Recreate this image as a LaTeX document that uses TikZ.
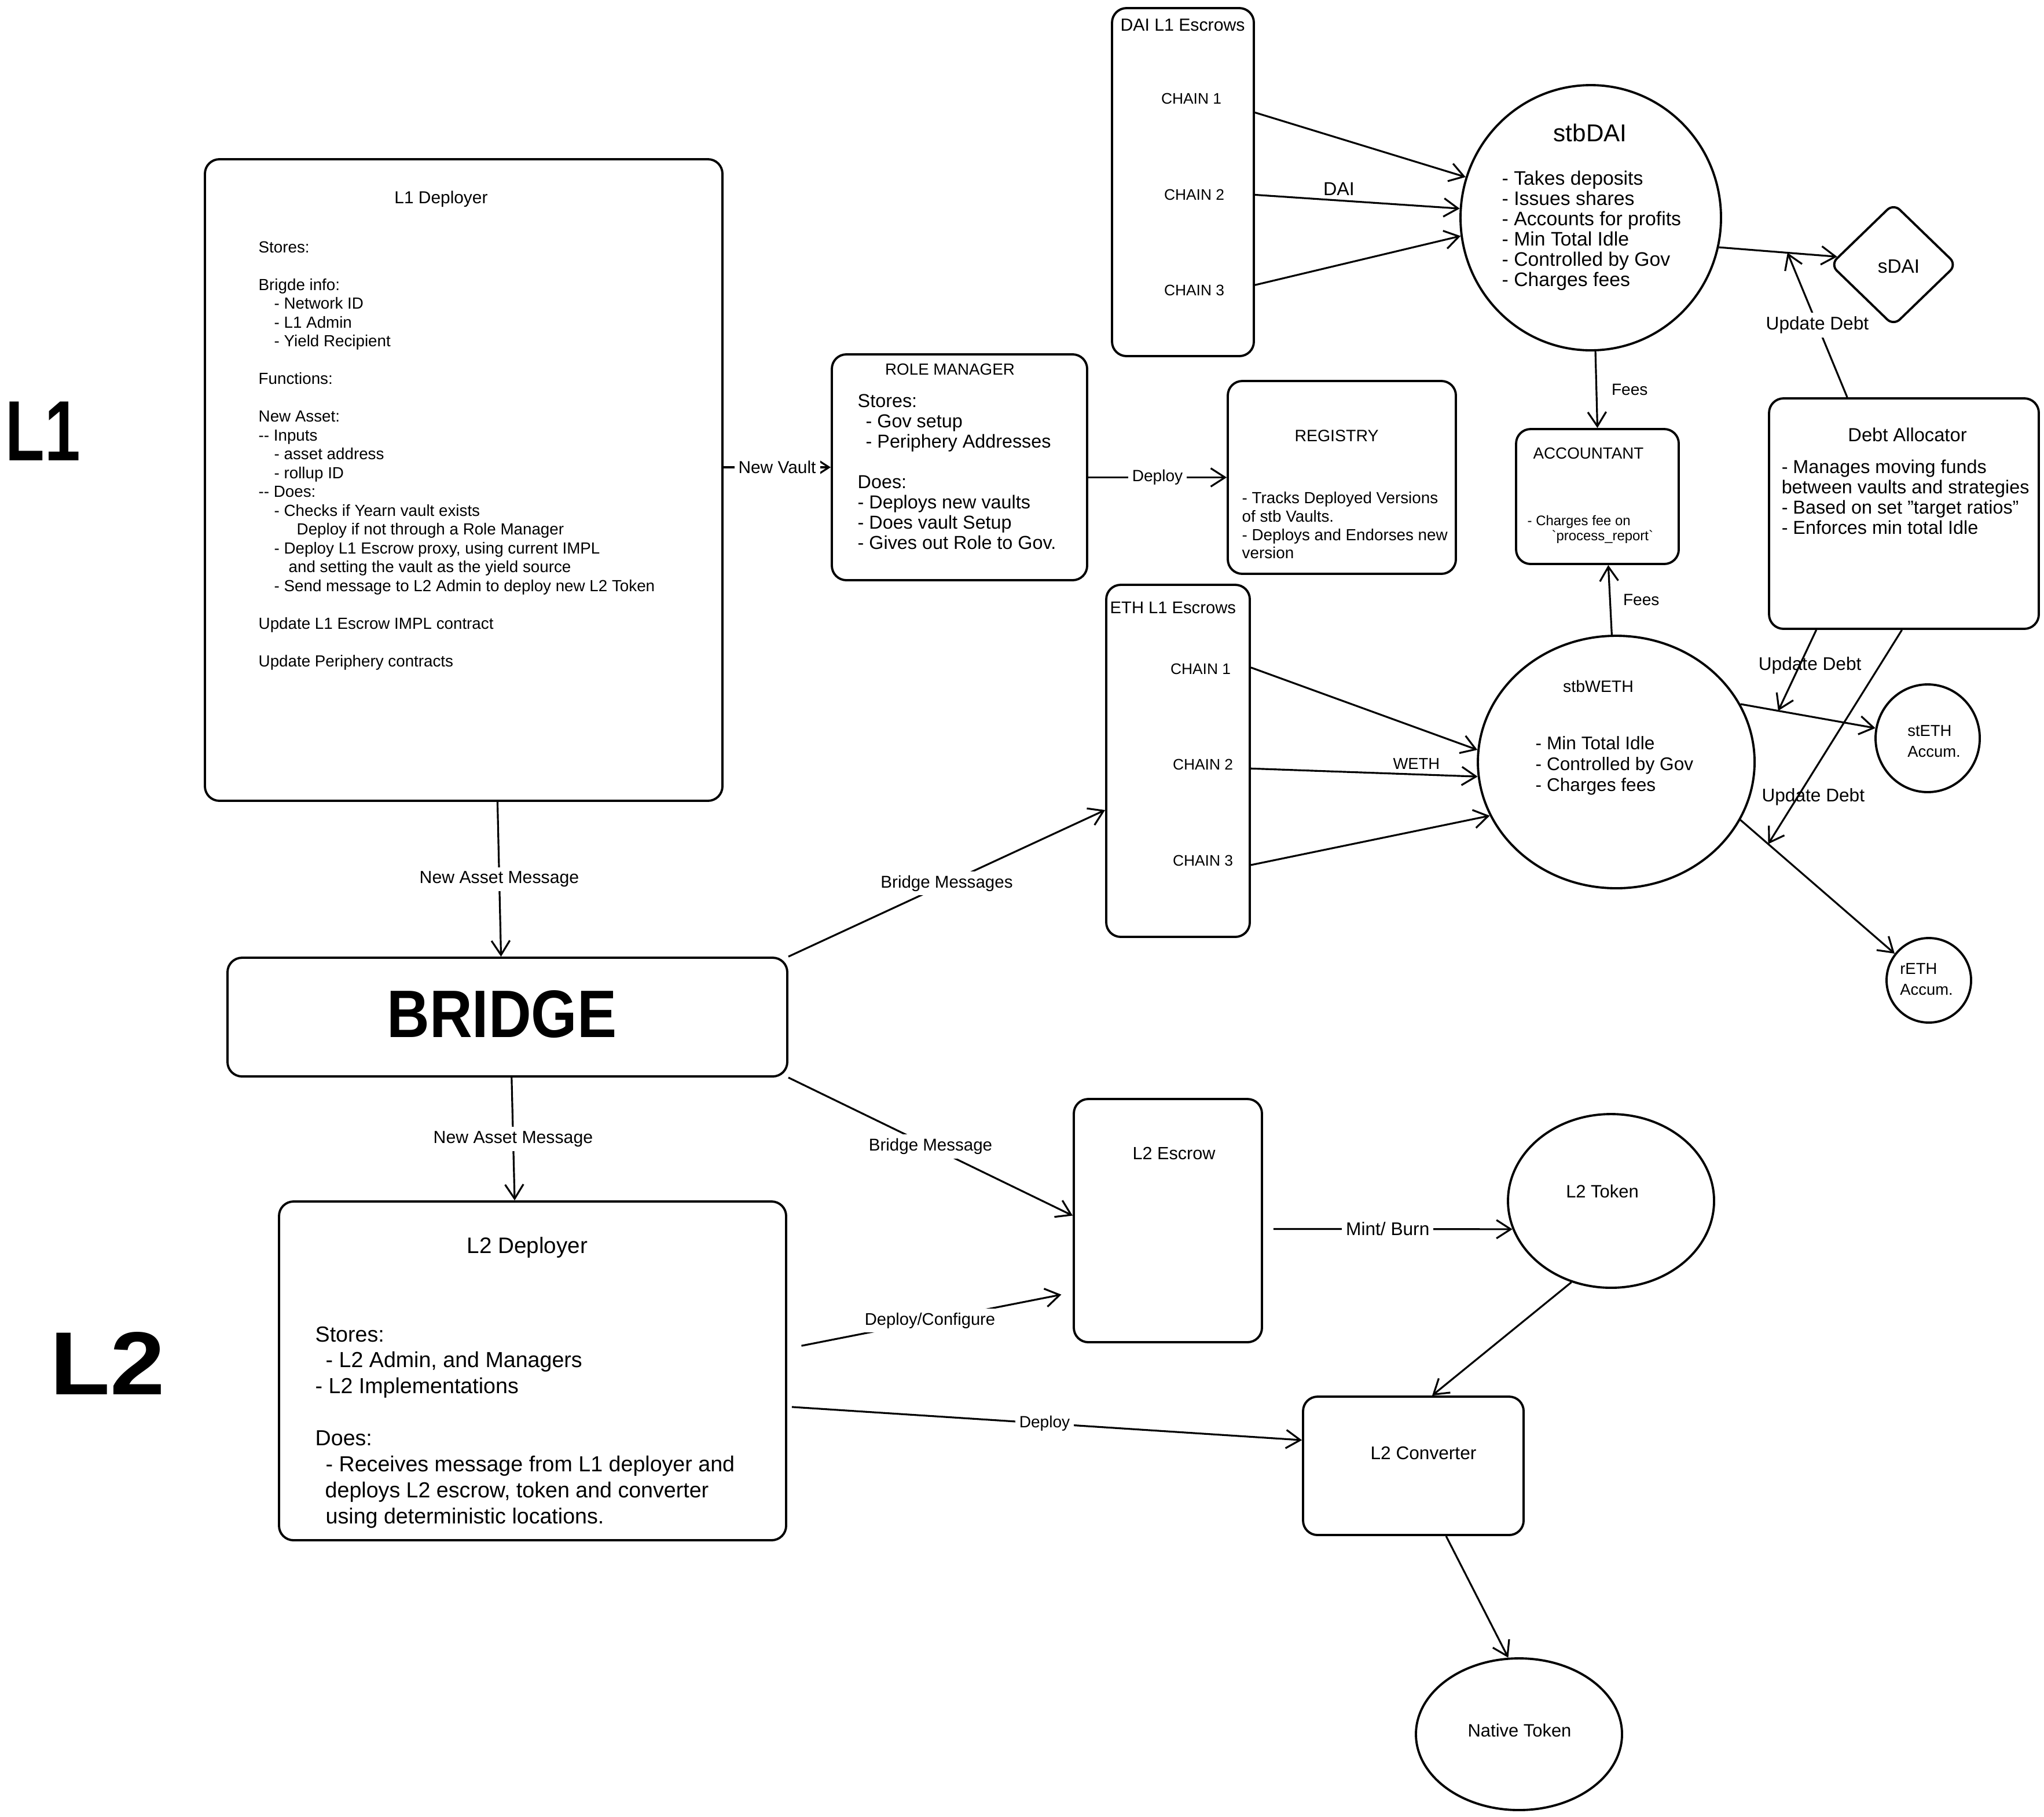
\documentclass[tikz,border=0pt]{standalone}
\usepackage{fontspec}
\setmainfont{Liberation Sans}
\usetikzlibrary{arrows.meta,shapes.geometric}
\newcommand\fsz[2]{\fontsize{#1pt}{#2pt}\selectfont}
\begin{document}
\begin{tikzpicture}[
  box/.style={draw, line width=1.1pt, rounded corners=0.25cm, inner sep=0pt},
  oval/.style={draw, ellipse, line width=1.1pt, inner sep=0pt},
  arr/.style={line width=0.9pt, -{Straight Barb[length=7pt,width=9pt]}},
  lbl/.style={fill=white, inner sep=2pt, font=\fsz{8.5}{10}},
  plainlbl/.style={inner sep=1pt, font=\fsz{8.5}{10}},
  txt/.style={inner sep=0pt, align=left, anchor=north west},
  ttl/.style={inner sep=0pt},
]
\fill[white] (0,0) rectangle (35.31,-31.37);

% big layer labels
\node[ttl, font=\bfseries\fsz{42}{42}, xscale=0.75] (lone) at (0.74,-7.45) {L1};
\node[ttl, font=\bfseries\fsz{44}{44}, xscale=1.1] (ltwo) at (1.86,-23.54) {L2};

% L1 deployer
\node[box, minimum width=8.94cm, minimum height=11.08cm] (l1dep) at (8.01,-8.29) {};
\node[ttl, font=\fsz{8.5}{10}] (l1title) at (7.62,-3.44) {L1 Deployer};
\node[txt, font=\fsz{7.9}{9.25}] (l1body) at (4.46,-4.16) {Stores:\\[9.25pt]
Brigde info:\\
\hspace*{0.27cm}- Network ID\\
\hspace*{0.27cm}- L1 Admin\\
\hspace*{0.27cm}- Yield Recipient\\[9.25pt]
Functions:\\[9.25pt]
New Asset:\\
-{}- Inputs\\
\hspace*{0.27cm}- asset address\\
\hspace*{0.27cm}- rollup ID\\
-{}- Does:\\
\hspace*{0.27cm}- Checks if Yearn vault exists\\
\hspace*{0.66cm}Deploy if not through a Role Manager\\
\hspace*{0.27cm}- Deploy L1 Escrow proxy, using current IMPL\\
\hspace*{0.52cm}and setting the vault as the yield source\\
\hspace*{0.27cm}- Send message to L2 Admin to deploy new L2 Token\\[9.25pt]
Update L1 Escrow IMPL contract\\[9.25pt]
Update Periphery contracts};

% Role manager
\node[box, minimum width=4.41cm, minimum height=3.90cm] (rolemgr) at (16.575,-8.07) {};
\node[ttl, font=\fsz{7.9}{9}] (rmtitle) at (16.41,-6.38) {ROLE MANAGER};
\node[txt, font=\fsz{9.2}{9.96}] (rmbody) at (14.81,-6.80) {Stores:\\
\hspace*{0.14cm}- Gov setup\\
\hspace*{0.14cm}- Periphery Addresses\\[9.96pt]
Does:\\
- Deploys new vaults\\
- Does vault Setup\\
- Gives out Role to Gov.};

% Registry
\node[box, minimum width=3.94cm, minimum height=3.33cm] (registry) at (23.18,-8.245) {};
\node[ttl, font=\fsz{8.1}{9}] (regtitle) at (23.09,-7.53) {REGISTRY};
\node[txt, font=\fsz{7.9}{9}] (regbody) at (21.45,-8.49) {- Tracks Deployed Versions\\
of stb Vaults.\\
- Deploys and Endorses new\\
version};

% DAI escrows
\node[box, minimum width=2.45cm, minimum height=6.01cm] (daiesc) at (20.435,-3.145) {};
\node[ttl, font=\fsz{8.6}{10}] (daititle) at (20.43,-0.43) {DAI L1 Escrows};
\node[ttl, font=\fsz{7.5}{9}] (dc1) at (20.58,-1.70) {CHAIN 1};
\node[ttl, font=\fsz{7.5}{9}] (dc2) at (20.63,-3.36) {CHAIN 2};
\node[ttl, font=\fsz{7.5}{9}] (dc3) at (20.63,-5.01) {CHAIN 3};

% stbDAI
\node[oval, minimum width=4.50cm, minimum height=4.58cm] (stbdai) at (27.48,-3.76) {};
\node[ttl, font=\fsz{12}{14}] (stbdaititle) at (27.47,-2.29) {stbDAI};
\node[txt, font=\fsz{9.6}{9.96}] (stbdaibody) at (25.94,-2.945) {- Takes deposits\\
- Issues shares\\
- Accounts for profits\\
- Min Total Idle\\
- Controlled by Gov\\
- Charges fees};

% sDAI
\node[draw, diamond, aspect=1.03, minimum width=2.19cm, minimum height=2.12cm, inner sep=0pt, line width=1.1pt, rounded corners=0.15cm] (sdai) at (32.71,-4.57) {};
\node[ttl, font=\fsz{9.5}{11}] (sdaitxt) at (32.80,-4.60) {sDAI};

% Accountant
\node[box, minimum width=2.81cm, minimum height=2.33cm] (accountant) at (27.595,-8.575) {};
\node[ttl, font=\fsz{7.9}{9}] (acctitle) at (27.44,-7.83) {ACCOUNTANT};
\node[txt, font=\fsz{6.8}{7.4}] (accbody) at (26.38,-8.894) {- Charges fee on\\
\hspace*{0.42cm}\textasciigrave process\_report\textasciigrave};

% Debt allocator
\node[box, minimum width=4.66cm, minimum height=3.98cm] (debtalloc) at (32.89,-8.87) {};
\node[ttl, font=\fsz{9.3}{11}] (datitle) at (32.95,-7.51) {Debt Allocator};
\node[txt, font=\fsz{9.2}{9.96}] (dabody) at (30.77,-7.93) {- Manages moving funds\\
between vaults and strategies\\
- Based on set "target ratios"\\
- Enforces min total Idle};

% ETH escrows
\node[box, minimum width=2.48cm, minimum height=6.08cm] (ethesc) at (20.35,-13.14) {};
\node[ttl, font=\fsz{8.3}{10}, anchor=west] (ethtitle) at (19.17,-10.50) {ETH L1 Escrows};
\node[ttl, font=\fsz{7.5}{9}] (ec1) at (20.74,-11.55) {CHAIN 1};
\node[ttl, font=\fsz{7.5}{9}] (ec2) at (20.78,-13.20) {CHAIN 2};
\node[ttl, font=\fsz{7.5}{9}] (ec3) at (20.78,-14.86) {CHAIN 3};

% stbWETH
\node[oval, minimum width=4.78cm, minimum height=4.36cm] (stbweth) at (27.92,-13.16) {};
\node[ttl, font=\fsz{8.1}{10}] (stbwethtitle) at (27.61,-11.85) {stbWETH};
\node[txt, font=\fsz{9}{10.2}] (stbwethbody) at (26.52,-12.713) {- Min Total Idle\\
- Controlled by Gov\\
- Charges fees};

% stETH / rETH
\node[oval, minimum width=1.80cm, minimum height=1.86cm] (steth) at (33.30,-12.75) {};
\node[ttl, align=left, font=\fsz{7.8}{10.2}] (stethtxt) at (33.41,-12.80) {stETH\\Accum.};
\node[oval, minimum width=1.46cm, minimum height=1.46cm] (reth) at (33.32,-16.93) {};
\node[ttl, align=left, font=\fsz{7.8}{10.2}] (rethtxt) at (33.28,-16.91) {rETH\\Accum.};

% Bridge
\node[box, minimum width=9.67cm, minimum height=2.05cm] (bridge) at (8.765,-17.565) {};
\node[ttl, font=\bfseries\fsz{33}{36}, xscale=0.88] (bridgetxt) at (8.67,-17.52) {BRIDGE};

% L2 deployer
\node[box, minimum width=8.76cm, minimum height=5.85cm] (l2dep) at (9.20,-23.675) {};
\node[ttl, font=\fsz{11}{13}] (l2title) at (9.11,-21.54) {L2 Deployer};
\node[txt, font=\fsz{10.7}{12.8}] (l2body) at (5.44,-22.90) {Stores:\\
\hspace*{0.18cm}- L2 Admin, and Managers\\
- L2 Implementations\\[12.8pt]
Does:\\
\hspace*{0.18cm}- Receives message from L1 deployer and\\
\hspace*{0.17cm}deploys L2 escrow, token and converter\\
\hspace*{0.18cm}using deterministic locations.};

% L2 side
\node[box, minimum width=3.25cm, minimum height=4.20cm] (l2esc) at (20.175,-21.08) {};
\node[ttl, font=\fsz{8.7}{10}] (l2esctxt) at (20.28,-19.92) {L2 Escrow};
\node[oval, minimum width=3.56cm, minimum height=3.00cm] (l2tok) at (27.83,-20.74) {};
\node[ttl, font=\fsz{8.8}{10}] (l2toktxt) at (27.68,-20.57) {L2 Token};
\node[box, minimum width=3.81cm, minimum height=2.39cm] (l2conv) at (24.415,-25.315) {};
\node[ttl, font=\fsz{9}{10}] (l2convtxt) at (24.59,-25.10) {L2 Converter};
\node[oval, minimum width=3.56cm, minimum height=2.62cm] (native) at (26.24,-29.95) {};
\node[ttl, font=\fsz{8.8}{10}] (nativetxt) at (26.25,-29.88) {Native Token};

% ---------- connectors ----------
\draw[arr] (l1dep.east |- rolemgr.west) -- node[lbl]{New Vault} (rolemgr.west);
\draw[arr] (rolemgr.east |- registry.west) -- node[lbl, font=\fsz{8}{10}]{Deploy} (registry.west);

\draw[arr] (daiesc.44) -- (stbdai.162);
\draw[arr] (daiesc.-10) -- node[pos=0.41, above=1pt, plainlbl, font=\fsz{9.2}{10}]{DAI} (stbdai.176);
\draw[arr] (daiesc.-55) -- (stbdai.188);
\draw[arr] (stbdai.-13) -- coordinate[pos=0.58] (udtip) (sdai.172);
\draw[arr] (debtalloc.116) -- node[lbl, font=\fsz{9}{10}]{Update Debt} (udtip);
\draw[arr] (stbdai.-88) -- node[right=6pt, plainlbl, font=\fsz{8}{10}]{Fees} (accountant.north);
\draw[arr] (stbweth.92) -- node[right=5pt, plainlbl, font=\fsz{8}{10}]{Fees} (accountant.-81);

\draw[arr] (ethesc.52) -- (stbweth.175);
\draw[arr] (ethesc.-6) -- node[pos=0.73, above=1pt, plainlbl, font=\fsz{7.8}{10}]{WETH} (stbweth.186);
\draw[arr] (ethesc.-55) -- (stbweth.203);
\draw[arr] (stbweth.25) -- coordinate[pos=0.28] (uw1) (steth.169);
\draw[arr] (stbweth.-25) -- coordinate[pos=0.18] (uw2) (reth.142);
\draw[arr] (debtalloc.233) -- node[pos=0.44, xshift=0.18cm, plainlbl, font=\fsz{9}{10}]{Update Debt} (uw1);
\draw[arr] (debtalloc.-91) -- node[pos=0.78, xshift=0.27cm, plainlbl, font=\fsz{9}{10}]{Update Debt} (uw2);

\draw[arr] (l1dep.-84) -- node[lbl, font=\fsz{8.6}{10}]{New Asset Message} (bridge.96);
\draw[arr] (bridge.-86) -- node[lbl, font=\fsz{8.6}{10}]{New Asset Message} (l2dep.96);
\draw[arr] (bridge.north east) -- node[lbl, font=\fsz{8.4}{10}]{Bridge Messages} (ethesc.214);
\draw[arr] (bridge.south east) -- node[lbl, font=\fsz{8.4}{10}]{Bridge Message} (l2esc.177);
\draw[arr, shorten <=0.25cm, shorten >=0.2cm] (l2dep.5) -- node[lbl, font=\fsz{8.3}{10}]{Deploy/Configure} (l2esc.217);
\draw[arr, shorten <=0.18cm] (l2esc.-5) -- node[lbl, font=\fsz{9}{10}]{Mint/ Burn} (l2tok.196);
\draw[arr] (l2tok.244) -- (l2conv.75);
\draw[arr, shorten <=0.08cm] (l2dep.-8) -- node[lbl, font=\fsz{8}{10}]{Deploy} (l2conv.167);
\draw[arr] (l2conv.-65) -- (native.98);
\end{tikzpicture}
\end{document}
